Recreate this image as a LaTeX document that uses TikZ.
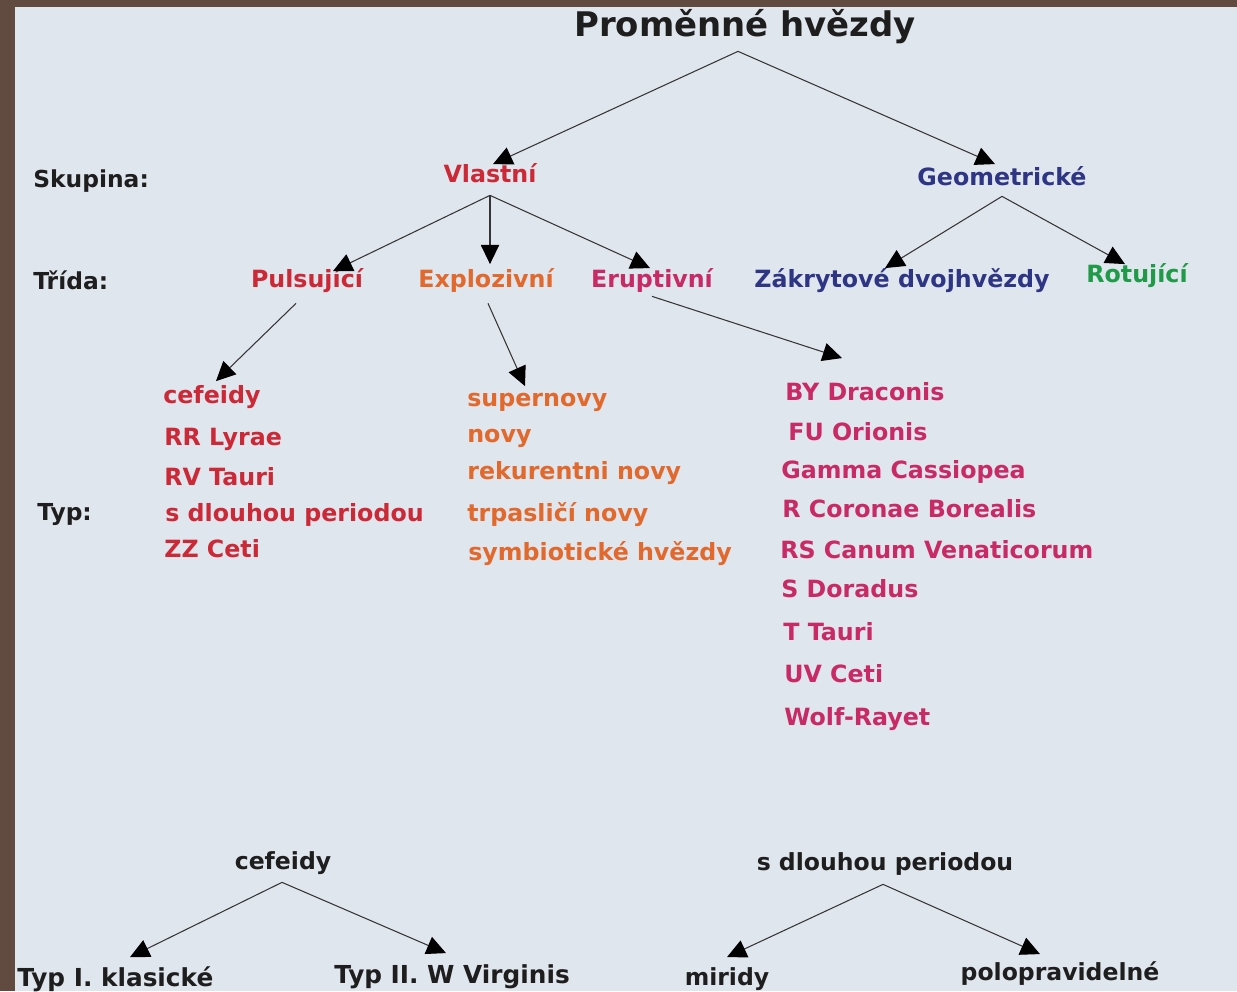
\documentclass[tikz,border=0pt]{standalone}
\usepackage{fontspec}
\setmainfont{DejaVu Sans}
\usepackage{tikz}
\usetikzlibrary{arrows.meta}
\usetikzlibrary{calc}
\definecolor{bgblue}{HTML}{DFE6ED}
\definecolor{frame}{HTML}{614B40}
\definecolor{vred}{HTML}{CD2836}
\definecolor{vorange}{HTML}{E2682C}
\definecolor{vmag}{HTML}{C92A66}
\definecolor{vblue}{HTML}{2E3585}
\definecolor{vgreen}{HTML}{1F9A48}
\definecolor{vdark}{HTML}{1E1E1E}

\begin{document}
\begin{tikzpicture}[x=0.02cm, y=-0.02cm,
  txt/.style={inner sep=0pt, text height=1em, text depth=0pt, anchor=base},
  ttl/.style={txt, font=\bfseries\fontsize{19.3}{22}\selectfont, text=vdark},
  grp/.style={txt, font=\bfseries\fontsize{13.5}{16}\selectfont},
  sub/.style={txt, font=\bfseries\fontsize{13.4}{16}\selectfont, text=vdark},
  subtyp/.style={sub, font=\bfseries\fontsize{14.1}{16}\selectfont},
  lab/.style={txt, anchor=base west, font=\bfseries\fontsize{13.3}{15}\selectfont, text=vdark},
  item/.style={txt, anchor=base west, font=\bfseries\fontsize{13.5}{15}\selectfont},
  arr/.style={draw=vdark!90, line width=0.6pt, -{Triangle[length=11pt, width=10.5pt, color=black]}}
  ]

  % Background
  \fill[frame] (0,0) rectangle (1237,991);
  \fill[bgblue] (15,7) rectangle (1237,991);
  \useasboundingbox (0,0) rectangle (1237,991);

  % Nodes
  \node[ttl] (root) at (745,36) {Proměnné hvězdy};
  \node[grp, text=vred] (vlastni) at (490,182) {Vlastní};
  \node[grp, text=vblue] (geom) at (1002,185) {Geometrické};

  \node[grp, text=vred] (puls) at (307,287) {Pulsující};
  \node[grp, text=vorange] (expl) at (486,287) {Explozivní};
  \node[grp, text=vmag] (erup) at (652,287) {Eruptivní};
  \node[grp, text=vblue] (zakr) at (902,287) {Zákrytové dvojhvězdy};
  \node[grp, text=vgreen] (rot) at (1137,282) {Rotující};

  \node[lab] (skupina) at (33,187) {Skupina:};
  \node[lab] (trida) at (33,289) {Třída:};
  \node[lab] (typ) at (37,520) {Typ:};

  % pulsujici
  \node[item, text=vred] (cef) at (163,403) {cefeidy};
  \node[item, text=vred] (rrlyr) at (164,445) {RR Lyrae};
  \node[item, text=vred] (rvtau) at (164,485) {RV Tauri};
  \node[item, text=vred] (mira) at (165,521) {s dlouhou periodou};
  \node[item, text=vred] (zzcet) at (164,557) {ZZ Ceti};

  % explozivni
  \node[item, text=vorange] (snova) at (467,406) {supernovy};
  \node[item, text=vorange] (nova) at (467,442) {novy};
  \node[item, text=vorange] (rnova) at (467,479) {rekurentni novy};
  \node[item, text=vorange] (dnova) at (467,521) {trpasličí novy};
  \node[item, text=vorange] (symb) at (468,560) {symbiotické hvězdy};

  % eruptivni
  \node[item, text=vmag] (bydra) at (785,400) {BY Draconis};
  \node[item, text=vmag] (fuori) at (788,440) {FU Orionis};
  \node[item, text=vmag] (gcas) at (781,478) {Gamma Cassiopea};
  \node[item, text=vmag] (rcrb) at (782,517) {R Coronae Borealis};
  \node[item, text=vmag] (rscvn) at (780,558) {RS Canum Venaticorum};
  \node[item, text=vmag] (sdor) at (781,597) {S Doradus};
  \node[item, text=vmag] (ttau) at (783,640) {T Tauri};
  \node[item, text=vmag] (uvcet) at (784,682) {UV Ceti};
  \node[item, text=vmag] (wr) at (784,725) {Wolf-Rayet};

  % lower trees
  \node[sub] (cefb) at (283,869) {cefeidy};
  \node[subtyp, anchor=base west] (typone) at (17,986) {Typ I. klasické};
  \node[subtyp] (typtwo) at (452,983) {Typ II. W Virginis};
  \node[sub] (mirab) at (885,870) {s dlouhou periodou};
  \node[sub] (miridy) at (727,985) {miridy};
  \node[sub] (semireg) at (1060,980) {polopravidelné};

  % Edges
  \draw[arr] ($(root.south)+(-7,15)$) -- ($(vlastni.north)+(3,0)$);
  \draw[arr] ($(root.south)+(-7,15)$) -- ($(geom.north)+(-7,-3)$);

  \draw[arr] ($(vlastni.south)+(0,13)$) -- ($(puls.north)+(26,2)$);
  \draw[arr] ($(vlastni.south)+(0,13)$) -- ($(expl.north)+(4,-5)$);
  \draw[arr] ($(vlastni.south)+(0,13)$) -- ($(erup.north)+(-2,-1)$);
  \draw[arr] ($(geom.south)+(0,11)$) -- ($(zakr.north)+(-17,-1)$);
  \draw[arr] ($(geom.south)+(0,11)$) -- ($(rot.north)+(-12,0)$);

  \draw[arr] ($(puls.south)+(-11,16)$) -- ($(cef.north west)+(53,-4)$);
  \draw[arr] ($(expl.south)+(2,16)$) -- ($(snova.north west)+(58,-2)$);
  \draw[arr] ($(erup.south)+(0,9)$) -- ($(bydra.north west)+(57,-24)$);

  \draw[arr] ($(cefb.south)+(-1,13)$) -- ($(typone.north west)+(113,-11)$);
  \draw[arr] ($(cefb.south)+(-1,13)$) -- ($(typtwo.north)+(-6,-12)$);
  \draw[arr] ($(mirab.south)+(-2,14)$) -- ($(miridy.north)+(0,-10)$);
  \draw[arr] ($(mirab.south)+(-2,14)$) -- ($(semireg.north)+(-20,-8)$);

\end{tikzpicture}
\end{document}
